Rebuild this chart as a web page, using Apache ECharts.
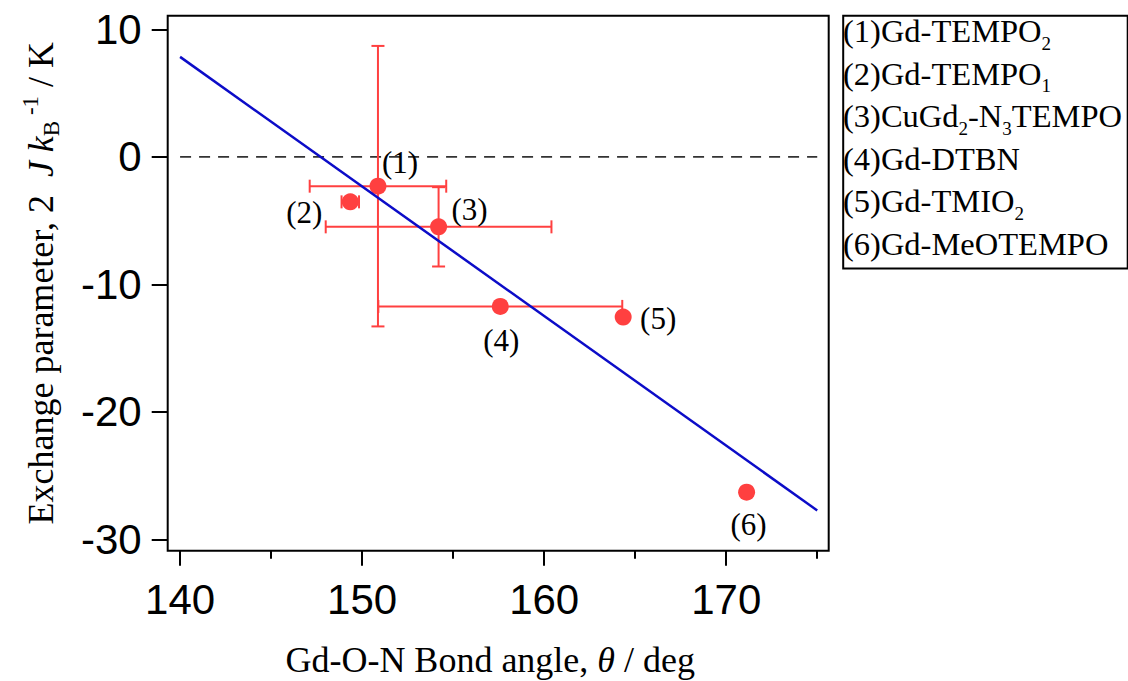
<!DOCTYPE html>
<html><head><meta charset="utf-8">
<script src="https://cdn.jsdelivr.net/npm/echarts@6/dist/echarts.min.js"></script>
<style>html,body{margin:0;padding:0;background:#fff;} #c{width:1128px;height:681px;}</style>
</head><body><div id="c"></div>
<script>
// ---- data ----
const pointLabels = ['(1)', '(2)', '(3)', '(4)', '(5)', '(6)'];
const angles = [150.87, 149.35, 154.20, 157.59, 164.34, 171.12];
const exchange = [-2.30, -3.53, -5.49, -11.73, -12.57, -26.3];
const angleErr = [3.75, 0.48, 6.2, 6.7, 0, 0];
const exchangeErr = [11.0, 0, 3.11, 0, 0, 0];
const fitX = [140, 175];
const fitY = [7.84, -27.73];
const zeroX = [140, 175];
const xMajorTicks = [140, 150, 160, 170];
const xMinorTicks = [145, 155, 165, 175];
const yTicks = [-30, -20, -10, 0, 10];
const legendLabels = [
  '(1)Gd-TEMPO{sub|2}',
  '(2)Gd-TEMPO{sub|1}',
  '(3)CuGd{sub|2}-N{sub|3}TEMPO',
  '(4)Gd-DTBN',
  '(5)Gd-TMIO{sub|2}',
  '(6)Gd-MeOTEMPO'
];
const xTitle = 'Gd-O-N Bond angle, {i|θ} / deg';
const yTitle = 'Exchange parameter, 2  {i|J} {i|k}{sub|B}{sup| -1} / K';

// ---- styling / layout ----
const RED = '#ff4040';
const BLUE = '#0c0cc8';
const SERIF = '"Liberation Serif", "Times New Roman", serif';
const SANS = '"Liberation Sans", Arial, sans-serif';
const labelOffsets = [[22, -24], [-46, 11], [31, -17], [1, 34], [35, 1], [2, 32]];

const chart = echarts.init(document.getElementById('c'), null, {renderer: 'svg'});

const errData = angles.map((a, i) => [a, exchange[i], angleErr[i], exchangeErr[i]]);
const ptData = angles.map((a, i) => ({
  value: [a, exchange[i]],
  label: {offset: labelOffsets[i]}
}));

function renderErr(params, api) {
  const x = api.value(0), y = api.value(1), ex = api.value(2), ey = api.value(3);
  const cap = 6.5;
  const style = {stroke: RED, lineWidth: 2, fill: null};
  const ch = [];
  const seg = (x1, y1, x2, y2) => ch.push({type: 'line', shape: {x1, y1, x2, y2}, style});
  if (ex > 0) {
    const l = api.coord([x - ex, y]), r = api.coord([x + ex, y]);
    seg(l[0], l[1], r[0], r[1]);
    seg(l[0], l[1] - cap, l[0], l[1] + cap);
    seg(r[0], r[1] - cap, r[0], r[1] + cap);
  }
  if (ey > 0) {
    const t = api.coord([x, y + ey]), b = api.coord([x, y - ey]);
    seg(t[0], t[1], b[0], b[1]);
    seg(t[0] - cap, t[1], t[0] + cap, t[1]);
    seg(b[0] - cap, b[1], b[0] + cap, b[1]);
  }
  return {type: 'group', children: ch};
}

const option = {
  animation: false,
  backgroundColor: '#fff',
  grid: {
    left: 167.7, top: 15.7, width: 661, height: 535,
    show: true, borderColor: '#000', borderWidth: 2, backgroundColor: 'transparent',
    containLabel: false, outerBoundsMode: 'none'
  },
  xAxis: [{
    type: 'value', min: 139.32, max: 175.63, position: 'bottom',
    axisLine: {show: false, onZero: false},
    splitLine: {show: false},
    axisTick: {show: true, customValues: xMajorTicks, length: 15, lineStyle: {color: '#000', width: 2}},
    axisLabel: {customValues: xMajorTicks, margin: 28, color: '#000', fontFamily: SANS, fontSize: 42},
    name: xTitle, nameLocation: 'middle', nameGap: 91,
    nameTextStyle: {color: '#000', fontFamily: SERIF, fontSize: 36, padding: [0, 16, 0, 0],
      rich: {i: {fontStyle: 'italic', fontFamily: SERIF, fontSize: 36, color: '#000'}}}
  }, {
    type: 'value', min: 139.32, max: 175.63, position: 'bottom', gridIndex: 0,
    axisLine: {show: false, onZero: false},
    splitLine: {show: false},
    axisTick: {show: true, customValues: xMinorTicks, length: 8, lineStyle: {color: '#000', width: 2}},
    axisLabel: {show: false}
  }],
  yAxis: {
    type: 'value', min: -30.89, max: 11.07,
    axisLine: {show: false, onZero: false},
    splitLine: {show: false},
    axisTick: {show: true, customValues: yTicks, length: 16, lineStyle: {color: '#000', width: 2}},
    axisLabel: {customValues: yTicks, margin: 26, color: '#000', fontFamily: SANS, fontSize: 42},
    name: yTitle, nameLocation: 'middle', nameGap: 105, nameRotate: 90,
    nameTextStyle: {color: '#000', fontFamily: SERIF, fontSize: 36, lineHeight: 44,
      rich: {
        i: {fontStyle: 'italic', fontFamily: SERIF, fontSize: 36, color: '#000', lineHeight: 44},
        sub: {fontFamily: SERIF, fontSize: 23, color: '#000', lineHeight: 23, verticalAlign: 'bottom'},
        sup: {fontFamily: SERIF, fontSize: 23, color: '#000', lineHeight: 23, verticalAlign: 'top'}
      }}
  },
  series: [
    {
      type: 'line', data: zeroX.map(x => [x, 0]), symbol: 'none', silent: true,
      lineStyle: {color: '#333', width: 1.6, type: [11, 8]}, z: 1
    },
    {
      type: 'custom', data: errData, renderItem: renderErr, encode: {x: 0, y: 1}, z: 2, silent: true
    },
    {
      type: 'scatter', data: ptData, symbol: 'circle', symbolSize: 17, z: 3,
      itemStyle: {color: RED, opacity: 1},
      label: {show: true, position: 'inside', formatter: p => pointLabels[p.dataIndex],
        color: '#000', fontFamily: SERIF, fontSize: 31}
    },
    {
      type: 'line', data: fitX.map((x, i) => [x, fitY[i]]), symbol: 'none', z: 4, silent: true,
      lineStyle: {color: BLUE, width: 2.5}
    }
  ],
  graphic: [
    {type: 'rect', left: 840.7, top: 13.3, shape: {width: 284.5, height: 252.7},
      style: {fill: 'none', stroke: '#000', lineWidth: 2}, z: 10},
    {type: 'text', left: 843, top: 10, z: 10,
      style: {text: legendLabels.join('\n'), fill: '#000', fontFamily: SERIF, fontSize: 32.5, lineHeight: 42.5,
        rich: {sub: {fontFamily: SERIF, fontSize: 19, lineHeight: 19, verticalAlign: 'bottom', fill: '#000'}}}}
  ]
};
chart.setOption(option);
</script></body></html>
